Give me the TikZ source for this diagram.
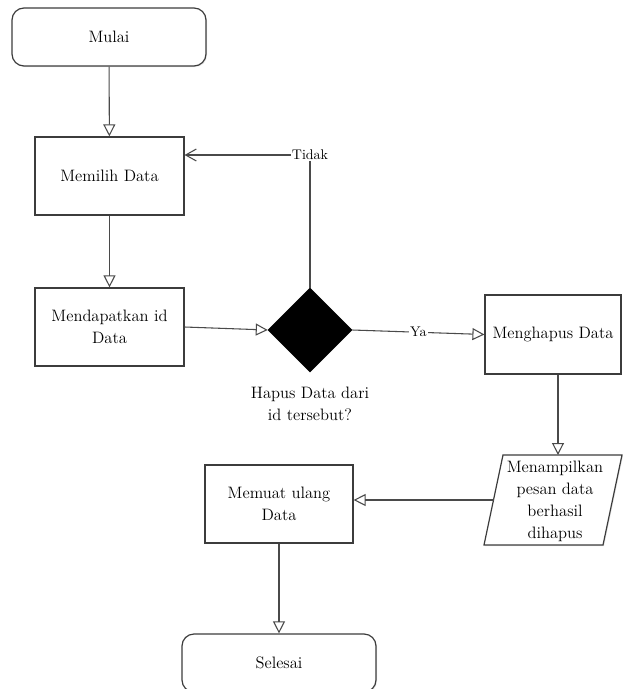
\documentclass[tikz,border=0pt]{standalone}
\usetikzlibrary{arrows.meta,shapes.geometric,shadows}
\definecolor{linec}{HTML}{4A4A4A}
\definecolor{edgec}{HTML}{3C3C3C}
\tikzset{
  every node/.style={font=\rmfamily\fontsize{12.4pt}{16.5pt}\selectfont, text=black},
  shade/.style={drop shadow={shadow xshift=0.8pt, shadow yshift=-0.8pt, opacity=0.18}},
  procbox/.style={draw=edgec, line width=0.9pt, fill=white, shade, rectangle,
    minimum width=111.75pt, minimum height=58.5pt, align=center, inner sep=2pt},
  termbox/.style={draw=edgec, line width=0.9pt, fill=white, shade, rectangle,
    rounded corners=9pt, minimum width=145.5pt, minimum height=43.5pt},
  decbox/.style={draw=black, fill=black, diamond, minimum width=63pt,
    minimum height=63pt, inner sep=0pt},
  ioshape/.style={draw=edgec, line width=0.9pt, fill=white, shade},
  flow/.style={draw=linec, line width=0.8pt,
    -{Triangle[open, length=9pt, width=9pt]}},
  backflow/.style={draw=linec, line width=0.8pt,
    -{Straight Barb[length=8pt, width=9pt]}},
  lbl/.style={fill=white, inner sep=1pt, font=\rmfamily\fontsize{10.5pt}{13pt}\selectfont}
}
\begin{document}
\begin{tikzpicture}[x=0.75pt, y=-0.75pt]
  \useasboundingbox (0,0) rectangle (622,689);

  % parallelogram corners of the output step
  \coordinate (pTL) at (503,455);
  \coordinate (pTR) at (622,455);
  \coordinate (pBR) at (603,545);
  \coordinate (pBL) at (484,545);
  \coordinate (pTop) at (558,455);
  \coordinate (pLeft) at (493.5,500);

  % nodes
  \node[termbox] (mulai) at (109,37) {Mulai};
  \node[procbox] (memilih) at (109.5,176) {Memilih Data};
  \node[procbox] (dapat) at (109.5,327) {Mendapatkan id\\Data};
  \node[decbox] (dec) at (310,330) {};
  \node[align=center] (declbl) at (310,404) {Hapus Data dari\\id tersebut?};
  \node[procbox, minimum width=102pt, minimum height=59.25pt] (hapus) at (553,334.5) {Menghapus Data};
  \path[ioshape] (pTL) -- (pTR) -- (pBR) -- (pBL) -- cycle;
  \node[align=center, inner sep=0pt] (tampil) at (555,501) {Menampilkan\\pesan data\\berhasil\\dihapus};
  \node[procbox, minimum width=111pt] (muat) at (279,504) {Memuat ulang\\Data};
  \node[termbox] (selesai) at (279,663) {Selesai};
  \coordinate (tk) at (310,155);

  % connectors
  \draw[flow] (mulai) -- (memilih);
  \draw[flow] (memilih) -- (dapat);
  \draw[flow] (dapat.east) -- (dec.west);
  \draw[flow] (dec.east) -- node[lbl, pos=0.5] {Ya} (hapus.west);
  \draw[backflow] (dec.north) -- (tk) -- (memilih.east |- tk);
  \node[lbl] (tidak) at (tk) {Tidak};
  \draw[flow] (hapus.south -| pTop) -- (pTop);
  \draw[flow] (pLeft) -- (pLeft -| muat.east);
  \draw[flow] (muat) -- (selesai);
\end{tikzpicture}
\end{document}
